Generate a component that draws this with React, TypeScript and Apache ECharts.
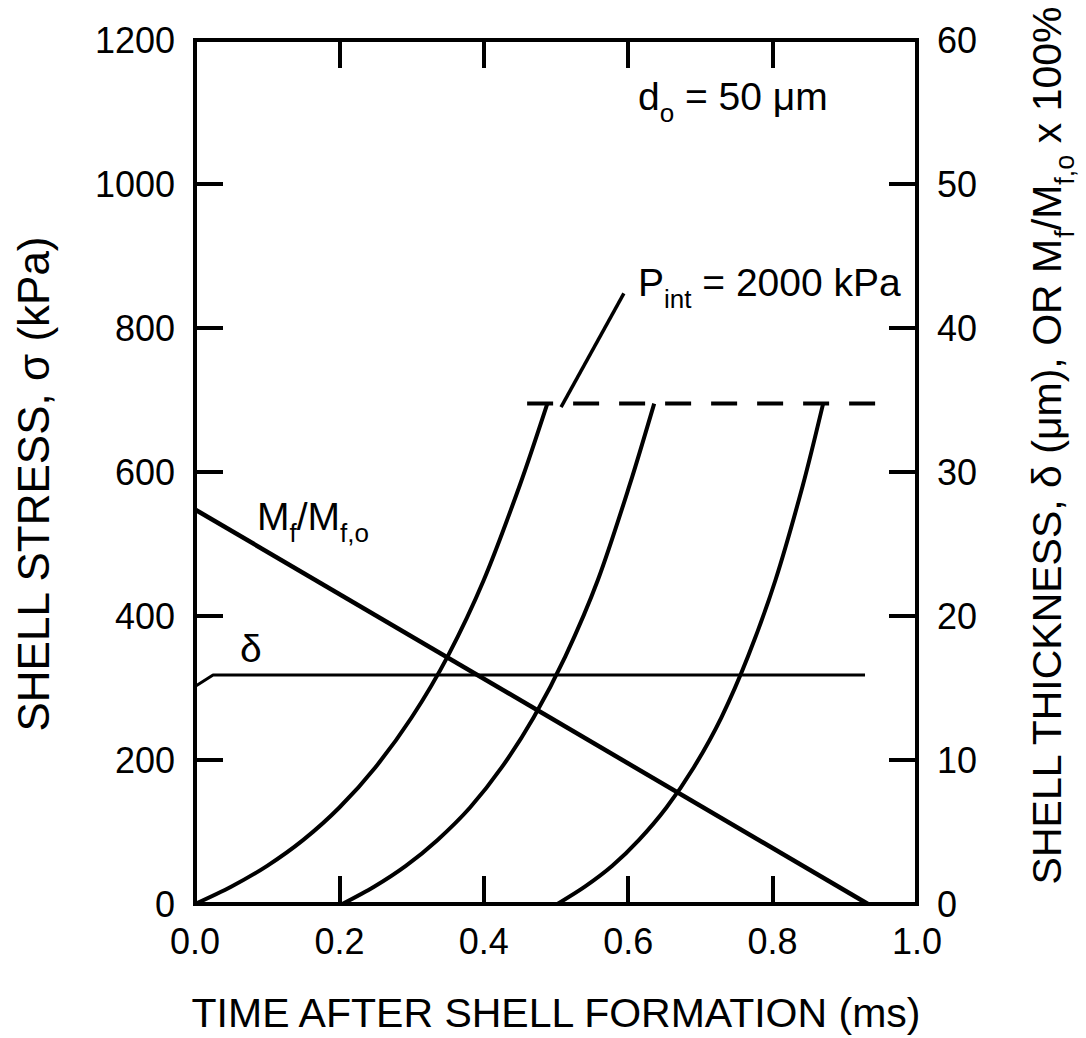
import React, { useEffect, useRef } from "react";
import * as echarts from "echarts";

const FONT = '"Liberation Sans", Arial, Helvetica, sans-serif';
const INK = "#000";

// Time after shell formation (ms) for the three shell-stress curves
const stressTimeA = [0, 0.05, 0.1, 0.15, 0.2, 0.25, 0.3, 0.35, 0.4, 0.45, 0.488];
const stressTimeB = [0.204, 0.248, 0.292, 0.336, 0.381, 0.425, 0.469, 0.513, 0.558, 0.602, 0.636];
const stressTimeC = [0.502, 0.54, 0.578, 0.615, 0.653, 0.691, 0.729, 0.766, 0.804, 0.842, 0.87];
// Shell stress (kPa) reached along each curve
const stressKPa = [0, 24, 53, 89, 134, 190, 259, 344, 450, 582, 695];

// Rupture level (dashed) reached by every curve
const ruptureTime = [0.46, 0.955];
const ruptureKPa = [695, 695];

// Leader from the rupture level to the P_int label
const leaderTime = [0.507, 0.594];
const leaderKPa = [690, 848];

// Remaining fuel mass, M_f / M_f,o x 100%
const massTime = [0, 0.932];
const massPct = [27.4, 0];

// Shell thickness, delta (um)
const thickTime = [0, 0.025, 0.928];
const thickUm = [15.1, 15.9, 15.9];

// Axis ranges
const timeRange = [0, 1];
const stressRange = [0, 1200];
const rightRange = [0, 60];

const pairs = (xs: number[], ys: number[]) => xs.map((x, i) => [x, ys[i]]);

const subRich = (size: number, line: number) => ({
  a: { fontSize: size, lineHeight: line, fontFamily: FONT, color: INK },
  s: { fontSize: Math.round(size * 0.66), lineHeight: Math.round(size * 0.66), verticalAlign: "bottom", fontFamily: FONT, color: INK },
});

export default function App() {
  const ref = useRef<HTMLDivElement>(null);

  useEffect(() => {
    if (!ref.current) return;
    const chart = echarts.init(ref.current, undefined, { renderer: "svg" });

    const axisLine = { show: true, onZero: false, lineStyle: { color: INK, width: 4, cap: "square" } };
    const axisTick = { show: true, inside: true, length: 28, lineStyle: { color: INK, width: 4 } };
    const tickFont = { fontSize: 36, color: INK, fontFamily: FONT };
    const titleFont = { fontSize: 41, color: INK, fontFamily: FONT };

    const curve = (xs: number[], ys: number[], yAxisIndex: number, width: number, extra: any = {}) => ({
      type: "line",
      data: pairs(xs, ys),
      xAxisIndex: 0,
      yAxisIndex,
      symbol: "none",
      silent: true,
      lineStyle: { color: INK, width, ...(extra.lineStyle || {}) },
      smooth: extra.smooth ?? false,
      z: 3,
    });

    const annFont = 39;
    const annLine = 60;

    const option: any = {
      animation: false,
      backgroundColor: "#fff",
      grid: { left: 195, top: 40, width: 738, height: 869, containLabel: false },
      xAxis: [
        {
          type: "value",
          position: "bottom",
          min: timeRange[0],
          max: timeRange[1],
          interval: 0.2,
          axisLine,
          axisTick,
          splitLine: { show: false },
          axisLabel: { ...tickFont, margin: 19, formatter: (v: number) => v.toFixed(1) },
          name: "TIME AFTER SHELL FORMATION (ms)",
          nameLocation: "middle",
          nameGap: 88,
          nameTextStyle: titleFont,
        },
        {
          type: "value",
          position: "top",
          min: timeRange[0],
          max: timeRange[1],
          interval: 0.2,
          axisLine,
          axisTick,
          splitLine: { show: false },
          axisLabel: { show: false },
        },
      ],
      yAxis: [
        {
          type: "value",
          position: "left",
          min: stressRange[0],
          max: stressRange[1],
          interval: 200,
          axisLine,
          axisTick,
          splitLine: { show: false },
          axisLabel: { ...tickFont, margin: 20, formatter: (v: number) => String(v) },
          name: "SHELL STRESS, σ (kPa)",
          nameLocation: "middle",
          nameRotate: 90,
          nameGap: 140,
          nameTextStyle: { ...titleFont, fontSize: 44, padding: [0, 24, 0, 0] },
        },
        {
          type: "value",
          position: "right",
          min: rightRange[0],
          max: rightRange[1],
          interval: 10,
          axisLine,
          axisTick,
          splitLine: { show: false },
          axisLabel: { ...tickFont, margin: 20, formatter: (v: number) => String(v) },
          name: "{a|SHELL THICKNESS, δ (μm), OR M}{s|f}{a|/M}{s|f,o}{a| x 100%}",
          nameLocation: "middle",
          nameRotate: 90,
          nameGap: 99,
          nameTextStyle: { ...titleFont, lineHeight: 62, padding: [0, 0, 0, 52], rich: subRich(41, 62) },
        },
      ],
      series: [
        curve(stressTimeA, stressKPa, 0, 4, { smooth: 0.3 }),
        curve(stressTimeB, stressKPa, 0, 4, { smooth: 0.3 }),
        curve(stressTimeC, stressKPa, 0, 4, { smooth: 0.3 }),
        curve(ruptureTime, ruptureKPa, 0, 4, { lineStyle: { type: [26, 20] } }),
        curve(leaderTime, leaderKPa, 0, 3.5),
        curve(massTime, massPct, 1, 4.5),
        curve(thickTime, thickUm, 1, 3),
      ],
      graphic: [
        {
          type: "text",
          x: 638,
          y: 66,
          silent: true,
          style: { text: "{a|d}{s|o}{a| = 50 μm}", rich: subRich(annFont, annLine), align: "left", verticalAlign: "top" },
        },
        {
          type: "text",
          x: 638,
          y: 252,
          silent: true,
          style: { text: "{a|P}{s|int}{a| = 2000 kPa}", rich: subRich(annFont, annLine), align: "left", verticalAlign: "top" },
        },
        {
          type: "text",
          x: 257,
          y: 486,
          silent: true,
          style: { text: "{a|M}{s|f}{a|/M}{s|f,o}", rich: subRich(annFont, annLine), align: "left", verticalAlign: "top" },
        },
        {
          type: "text",
          x: 240,
          y: 648,
          silent: true,
          style: { text: "δ", font: `${annFont}px ${FONT}`, fill: INK, align: "left", verticalAlign: "middle" },
        },
      ],
    };

    chart.setOption(option);
    return () => chart.dispose();
  }, []);

  return (
    <div
      ref={ref}
      style={{ position: "fixed", left: 0, top: 0, width: 1086, height: 1038, background: "#fff" }}
    />
  );
}
